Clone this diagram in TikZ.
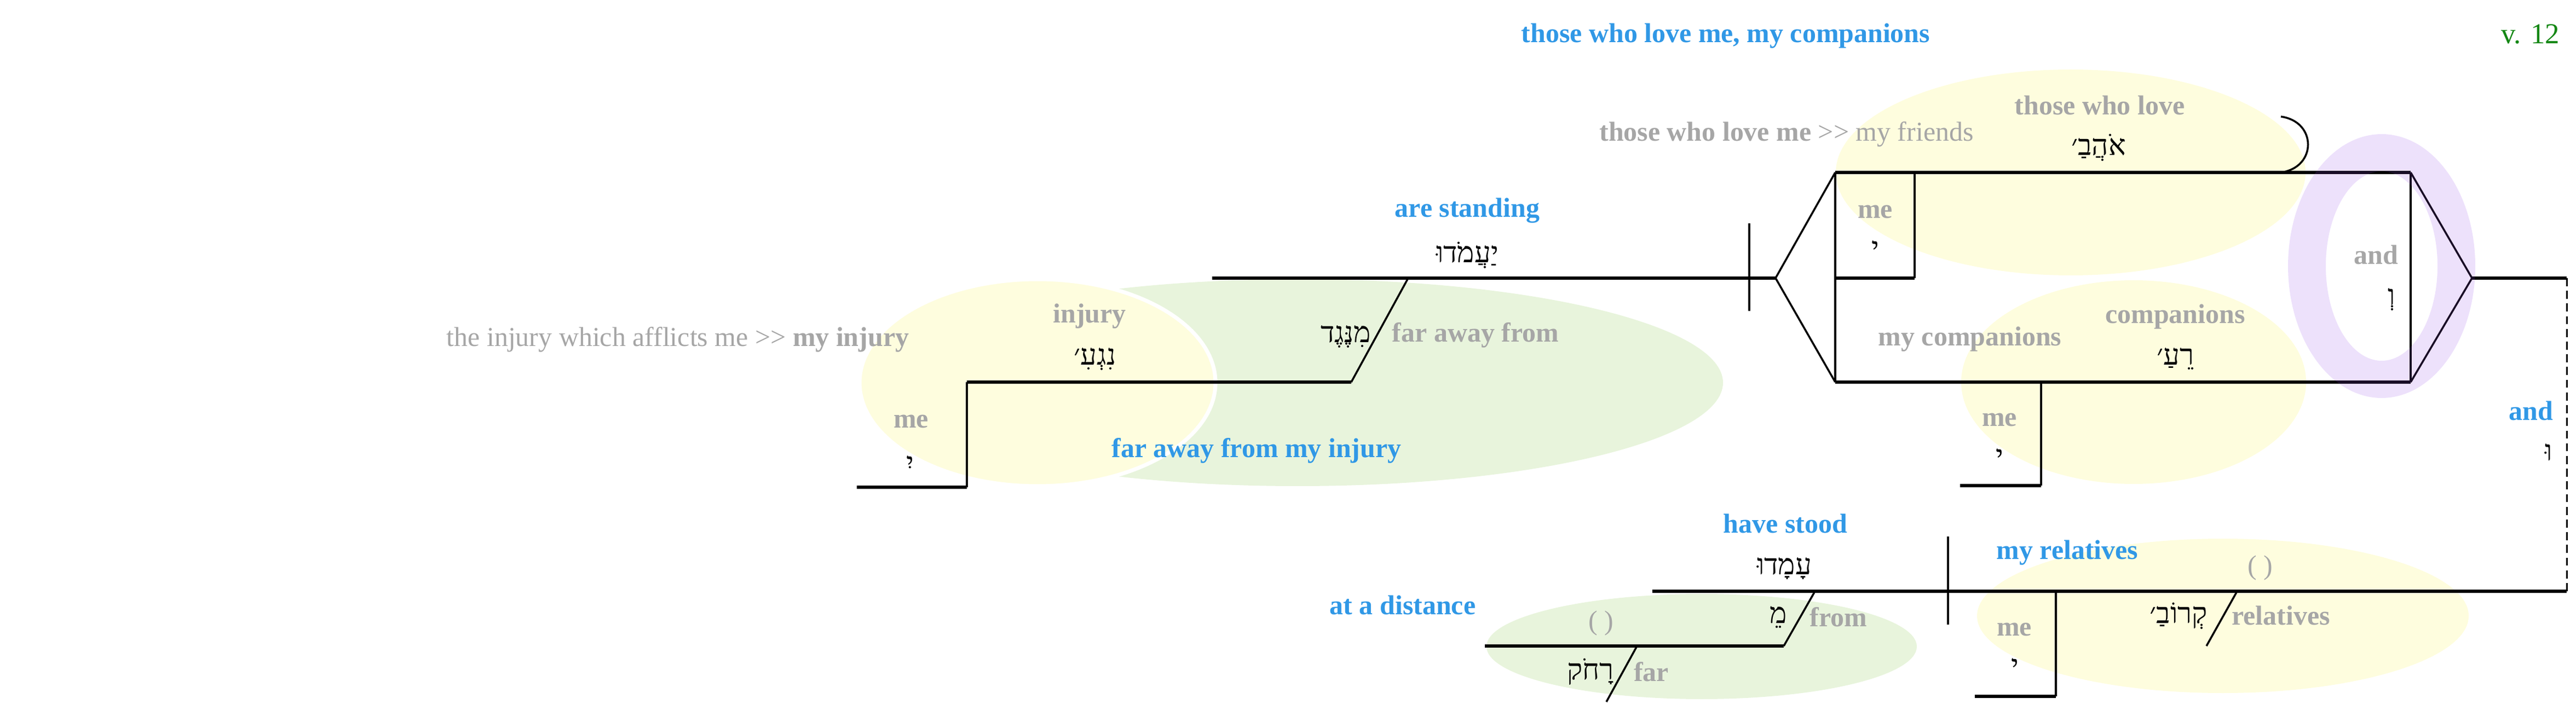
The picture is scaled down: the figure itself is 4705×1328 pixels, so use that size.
\documentclass[tikz,border=0pt]{standalone}
\usepackage{fontspec}
\setmainfont{Liberation Serif}
\newfontfamily\hebfont[Script=Hebrew]{Liberation Serif}
\TeXXeTstate=1
\usepackage{tikz}
\definecolor{labelgrey}{RGB}{166,166,166}
\definecolor{transblue}{RGB}{48,152,230}
\definecolor{versegreen}{RGB}{20,135,20}
\definecolor{softyellow}{RGB}{254,253,222}
\definecolor{softgreen}{RGB}{232,244,220}
\definecolor{ringpurple}{RGB}{150,80,230}
\newcommand{\heb}[1]{{\hebfont\beginR#1\endR}}
\newcommand{\paraph}{{>}{>}}
\tikzstyle{gloss}=[inner sep=0pt,text=labelgrey,font=\bfseries\fontsize{14.2}{17}\selectfont]
\tikzstyle{plaingloss}=[inner sep=0pt,text=labelgrey,font=\fontsize{14.2}{17}\selectfont]
\tikzstyle{trans}=[inner sep=0pt,text=transblue,font=\bfseries\fontsize{14.2}{17}\selectfont]
\tikzstyle{hebrew}=[inner sep=0pt,font=\fontsize{15}{18}\selectfont]
\tikzstyle{mainline}=[line width=1.45pt]
\tikzstyle{subline}=[line width=1pt]
\tikzstyle{dashline}=[line width=0.85pt,dash pattern=on 4.2pt off 2.4pt]

\begin{document}
\begin{tikzpicture}[x=0.01cm,y=-0.01cm]
    \useasboundingbox (0,0) rectangle (4705,1328);

    % Flaechen
    \fill[softgreen] (2370,699) ellipse [x radius=777, y radius=189];
    \filldraw[fill=softyellow, draw=white, line width=2pt] (1895,699) ellipse [x radius=325, y radius=189];
    \fill[softyellow] (3782,315) ellipse [x radius=429, y radius=188];
    \fill[softyellow] (3897,698) ellipse [x radius=315, y radius=186];
    \fill[softgreen] (3108,1181) ellipse [x radius=393, y radius=96];
    \fill[softyellow] (4060,1125) ellipse [x radius=449, y radius=141];

    % Punkte
    \coordinate (s0) at (2214,508);
    \coordinate (dT) at (3195,408);
    \coordinate (dB) at (3195,568);
    \coordinate (f0) at (3243,508);
    \coordinate (fu) at (3352,315);
    \coordinate (fl) at (3352,698);
    \coordinate (gu) at (4403,315);
    \coordinate (gl) at (4403,698);
    \coordinate (g0) at (4515,508);
    \coordinate (e0) at (4688,508);
    \coordinate (e1) at (4688,1080);
    \coordinate (l0) at (3018,1080);
    \coordinate (ldT) at (3558,980);
    \coordinate (ldB) at (3558,1141);
    % Possessiv oben
    \coordinate (mu1) at (3497,315);
    \coordinate (mu2) at (3497,508);
    \coordinate (mu3) at (3352,508);
    \coordinate (ml1) at (3728,698);
    \coordinate (ml2) at (3728,887);
    \coordinate (ml3) at (3580,887);
    \coordinate (brT) at (4166,213);
    \coordinate (brB) at (4166,315);
    % links
    \coordinate (n1) at (2572,508);
    \coordinate (n2) at (2468,698);
    \coordinate (n3) at (1766,698);
    \coordinate (n4) at (1766,890);
    \coordinate (n5) at (1565,890);
    % unten
    \coordinate (k1) at (3315,1080);
    \coordinate (k2) at (3258,1180);
    \coordinate (k3) at (2712,1180);
    \coordinate (r1) at (2990,1180);
    \coordinate (r2) at (2934,1282);
    \coordinate (q1) at (3755,1080);
    \coordinate (q2) at (3755,1272);
    \coordinate (q3) at (3607,1272);
    \coordinate (p1) at (4086,1080);
    \coordinate (p2) at (4030,1180);

    % Linien
    \draw[mainline] (s0) -- (f0);
    \draw[subline] (dT) -- (dB);
    \draw[subline] (f0) -- (fu);
    \draw[subline] (f0) -- (fl);
    \draw[mainline] (fu) -- (gu);
    \draw[mainline] (fl) -- (gl);
    \draw[subline] (fu) -- (fl);
    \draw[subline] (gu) -- (gl);
    \draw[subline] (gu) -- (g0);
    \draw[subline] (gl) -- (g0);
    \draw[mainline] (g0) -- (e0);
    \draw[dashline] (e0) -- (e1);
    \draw[mainline] (l0) -- (e1);
    \draw[subline] (ldT) -- (ldB);
    \draw[subline] (mu1) -- (mu2);
    \draw[mainline] (mu2) -- (mu3);
    \draw[subline] (ml1) -- (ml2);
    \draw[mainline] (ml2) -- (ml3);
    \draw[subline] (brT) .. controls (4232,222) and (4232,306) .. (brB);
    \draw[subline] (n1) -- (n2);
    \draw[mainline] (n2) -- (n3);
    \draw[subline] (n3) -- (n4);
    \draw[mainline] (n4) -- (n5);
    \draw[subline] (k1) -- (k2);
    \draw[mainline] (k2) -- (k3);
    \draw[subline] (r1) -- (r2);
    \draw[subline] (q1) -- (q2);
    \draw[mainline] (q2) -- (q3);
    \draw[subline] (p1) -- (p2);

    % Ring um die Konjunktion
    \fill[ringpurple, fill opacity=0.17, even odd rule] (4350,486) ellipse [x radius=171, y radius=241] (4350,486) ellipse [x radius=102, y radius=173];

    % Texte
    \node[trans] (tTitle) at (3152,66) {those who love me, my companions};
    \node[inner sep=0pt, text=versegreen, font=\fontsize{15}{18}\selectfont, anchor=east] (tVerse) at (4676,62) {v. 12};
    \node[plaingloss] (gFriends) at (3263,245) {\textbf{those who love me} \paraph{} my friends};
    \node[gloss] (gLove) at (3835,192) {those who love};
    \node[hebrew] (hLove) at (3833,270) {\heb{אֹהֲבַ׳}};
    \node[gloss] (gMeA) at (3425,387) {me};
    \node[hebrew] (hMeA) at (3425,455) {\heb{י}};
    \node[trans] (tStand) at (2680,385) {are standing};
    \node[hebrew] (hStand) at (2680,466) {\heb{יַעֲמֹדוּ}};
    \node[hebrew] (hAway) at (2458,615) {\heb{מִנֶּגֶד}};
    \node[gloss] (gAway) at (2695,612) {far away from};
    \node[gloss] (gInjury) at (1990,578) {injury};
    \node[hebrew] (hInjury) at (2000,656) {\heb{נִגְעִ׳}};
    \node[gloss] (gMeB) at (1664,770) {me};
    \node[hebrew] (hMeB) at (1662,848) {\heb{יִ}};
    \node[plaingloss] (gPara) at (1238,620) {the injury which afflicts me \paraph{} \textbf{my injury}};
    \node[trans] (tAway) at (2295,823) {far away from my injury};
    \node[gloss] (gMyComp) at (3598,620) {my companions};
    \node[gloss] (gComp) at (3973,578) {companions};
    \node[hebrew] (hComp) at (3973,655) {\heb{רֵעַ׳}};
    \node[gloss] (gMeC) at (3652,767) {me};
    \node[hebrew] (hMeC) at (3652,835) {\heb{י}};
    \node[gloss] (gAnd) at (4340,465) {and};
    \node[hebrew] (hAnd) at (4368,547) {\heb{וְ}};
    \node[trans] (tAnd) at (4623,750) {and};
    \node[hebrew] (hAndB) at (4655,826) {\heb{וּ}};
    \node[trans] (tStood) at (3261,956) {have stood};
    \node[hebrew] (hStood) at (3259,1038) {\heb{עָמָדוּ}};
    \node[trans] (tRel) at (3776,1010) {my relatives};
    \node[plaingloss] (gEmptyA) at (4128,1037) {( )};
    \node[gloss] (gMeD) at (3679,1150) {me};
    \node[hebrew] (hMeD) at (3680,1218) {\heb{י}};
    \node[hebrew] (hRel) at (3979,1125) {\heb{קְרוֹבַ׳}};
    \node[gloss] (gRel) at (4166,1124) {relatives};
    \node[trans] (tDist) at (2562,1105) {at a distance};
    \node[plaingloss] (gEmptyB) at (2924,1138) {( )};
    \node[hebrew] (hFrom) at (3248,1127) {\heb{מֵ}};
    \node[gloss] (gFrom) at (3358,1127) {from};
    \node[hebrew] (hFar) at (2905,1227) {\heb{רָחֹק}};
    \node[gloss] (gFar) at (3016,1227) {far};

\end{tikzpicture}
\end{document}
